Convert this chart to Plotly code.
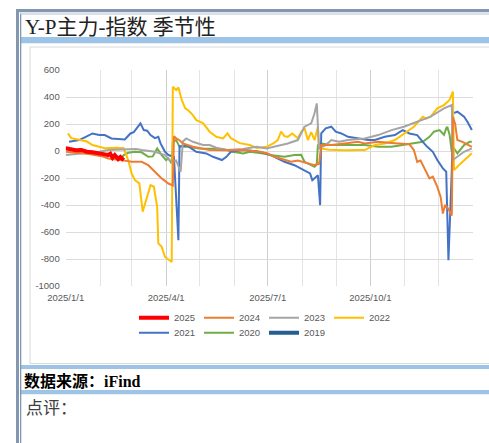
import plotly.graph_objects as go

# ---------------- data ----------------
dates_2025 = ["2025-01-01","2025-01-06","2025-01-10","2025-01-15","2025-01-20","2025-01-25","2025-01-31",
              "2025-02-05","2025-02-08","2025-02-10","2025-02-12","2025-02-14","2025-02-17","2025-02-19","2025-02-22"]
vals_2025 = [20, 12, 5, 8, -5, -10, -15, -25, -30, -20, -50, -30, -60, -45, -68]

dates_2024 = ["2025-01-01","2025-01-08","2025-01-15","2025-01-22","2025-01-27","2025-02-03","2025-02-08","2025-02-14",
              "2025-02-20","2025-02-26","2025-03-01","2025-03-06","2025-03-10","2025-03-16","2025-03-22","2025-03-28",
              "2025-04-03","2025-04-06","2025-04-07","2025-04-08","2025-04-10","2025-04-13","2025-04-16","2025-04-25",
              "2025-05-05","2025-05-10","2025-05-25","2025-06-09","2025-06-24","2025-07-01","2025-07-07","2025-07-16",
              "2025-07-22","2025-07-28","2025-08-06","2025-08-12","2025-08-15","2025-08-16","2025-08-18","2025-08-27",
              "2025-09-08","2025-09-20","2025-09-26","2025-10-08","2025-10-20","2025-10-31","2025-11-05","2025-11-09",
              "2025-11-12","2025-11-15","2025-11-18","2025-11-23","2025-11-26","2025-11-30","2025-12-03","2025-12-05",
              "2025-12-07","2025-12-10","2025-12-13","2025-12-14","2025-12-16","2025-12-18","2025-12-22","2025-12-27",
              "2025-12-31"]
vals_2024 = [-6, -10, -18, -22, -30, -40, -55, -60, -67, -75, -80, -78, -80, -105, -154, -203,
             -241, -250, -255, 110, 93, 80, 56, 31, 15, 7, 5, 7, -6, -18, -43, -67,
             -80, -70, -92, -105, -92, -100, 44, 44, 56, 68, 56, 68, 60, 56, 50, 7,
             -80, -70, -117, -203, -190, -266, -340, -463, -400, -430, -478, 254, 200, 81, 70, 50,
             31]

dates_2023 = ["2025-01-01","2025-01-08","2025-01-15","2025-01-22","2025-01-31","2025-02-08","2025-02-16","2025-02-22",
              "2025-03-01","2025-03-05","2025-03-10","2025-03-16","2025-03-22","2025-03-31","2025-04-04","2025-04-07",
              "2025-04-10","2025-04-14","2025-04-16","2025-04-19","2025-04-25","2025-05-04","2025-05-10","2025-05-16",
              "2025-05-25","2025-06-09","2025-06-21","2025-06-30","2025-07-07","2025-07-13","2025-07-19","2025-07-28",
              "2025-08-03","2025-08-09","2025-08-12","2025-08-14","2025-08-16","2025-08-22","2025-08-27","2025-09-03",
              "2025-09-11","2025-09-26","2025-10-03","2025-10-08","2025-10-20","2025-10-31","2025-11-12","2025-11-24",
              "2025-12-06","2025-12-13","2025-12-14","2025-12-18","2025-12-24","2025-12-31"]
vals_2023 = [-30, -25, -20, -12, -6, 7, 10, 14, 19, 15, 7, 0, -6, -30, -67, -80,
             -70, -154, 70, 93, 68, 44, 44, 24, 7, 14, 31, 19, 31, 44, 56, 81,
             180, 205, 279, 353, 19, 44, 81, 68, 81, 93, 105, 118, 155, 180, 217, 254,
             316, 340, -67, -43, -6, 19]

dates_2022 = ["2025-01-03","2025-01-06","2025-01-15","2025-01-20","2025-01-25","2025-02-05","2025-02-15","2025-02-22",
              "2025-02-26","2025-03-01","2025-03-04","2025-03-08","2025-03-11","2025-03-15","2025-03-18","2025-03-21",
              "2025-03-24","2025-03-25","2025-03-28","2025-03-31","2025-04-06","2025-04-07","2025-04-10","2025-04-12",
              "2025-04-15","2025-04-18","2025-04-21","2025-04-25","2025-04-28","2025-05-04","2025-05-10","2025-05-16",
              "2025-05-22","2025-05-26","2025-05-29","2025-06-06","2025-06-15","2025-06-21","2025-06-30","2025-07-06",
              "2025-07-10","2025-07-13","2025-07-16","2025-07-19","2025-07-23","2025-07-28","2025-07-31","2025-08-03",
              "2025-08-06","2025-08-09","2025-08-12","2025-08-15","2025-08-16","2025-08-25","2025-09-08","2025-09-20",
              "2025-09-26","2025-10-05","2025-10-14","2025-10-23","2025-10-31","2025-11-09","2025-11-17","2025-11-20",
              "2025-11-24","2025-11-30","2025-12-06","2025-12-11","2025-12-14","2025-12-15","2025-12-21","2025-12-27",
              "2025-12-31"]
vals_2022 = [130, 95, 80, 70, 44, 20, 25, 20, -67, -165, -216, -240, -450, -340, -253, -265,
             -414, -684, -710, -785, -822, 476, 452, 470, 378, 318, 300, 266, 229, 207, 143, 105,
             93, 130, 95, 58, 44, 22, 31, 56, 81, 143, 110, 105, 130, 95, 140, 170,
             81, 140, 80, 180, 21, 10, 5, 7, 7, 44, 56, 81, 130, 180, 254, 240,
             254, 316, 340, 378, 440, -142, -92, -43, -16]

dates_2021 = ["2025-01-04","2025-01-13","2025-01-19","2025-01-25","2025-01-31","2025-02-05","2025-02-11","2025-02-17",
              "2025-02-23","2025-02-28","2025-03-03","2025-03-09","2025-03-12","2025-03-15","2025-03-18","2025-03-22",
              "2025-03-25","2025-03-27","2025-03-31","2025-04-03","2025-04-08","2025-04-12","2025-04-13","2025-04-20",
              "2025-04-28","2025-05-07","2025-05-13","2025-05-21","2025-05-25","2025-05-29","2025-06-09","2025-06-21",
              "2025-06-30","2025-07-07","2025-07-16","2025-07-25","2025-08-03","2025-08-08","2025-08-10","2025-08-13",
              "2025-08-15","2025-08-17","2025-08-18","2025-08-22","2025-08-27","2025-08-31","2025-09-05","2025-09-11",
              "2025-09-20","2025-09-29","2025-10-05","2025-10-14","2025-10-23","2025-10-30","2025-11-05","2025-11-12",
              "2025-11-17","2025-11-21","2025-11-26","2025-11-30","2025-12-05","2025-12-08","2025-12-10","2025-12-13",
              "2025-12-14","2025-12-18","2025-12-24","2025-12-27","2025-12-31"]
vals_2021 = [68, 81, 105, 130, 118, 118, 93, 90, 86, 130, 140, 205, 155, 150, 118, 95,
             105, 56, -6, -30, -43, -661, 35, 40, -6, -18, -43, -67, -43, -6, 7, -1,
             -18, -43, -80, -105, -142, -166, -216, -191, -180, -401, 130, 168, 180, 143, 130, 105,
             93, 81, 81, 105, 118, 155, 130, 118, 68, 31, -6, -67, -129, -154, -809, -142,
             279, 291, 254, 217, 155]

dates_2020 = ["2025-01-01","2025-01-10","2025-01-20","2025-01-31","2025-02-10","2025-02-20","2025-02-22","2025-02-26",
              "2025-03-04","2025-03-10","2025-03-16","2025-03-20","2025-03-24","2025-03-28","2025-04-01","2025-04-03",
              "2025-04-06","2025-04-07","2025-04-10","2025-04-13","2025-04-20","2025-05-01","2025-05-13","2025-05-22",
              "2025-05-31","2025-06-09","2025-06-15","2025-06-27","2025-07-03","2025-07-16","2025-07-25","2025-07-31",
              "2025-08-03","2025-08-09","2025-08-12","2025-08-14","2025-08-15","2025-08-18","2025-08-27","2025-09-26",
              "2025-10-08","2025-10-20","2025-10-31","2025-11-09","2025-11-17","2025-11-23","2025-11-27","2025-12-02",
              "2025-12-06","2025-12-08","2025-12-09","2025-12-11","2025-12-13","2025-12-14","2025-12-18","2025-12-24",
              "2025-12-29","2025-12-31"]
vals_2020 = [15, 5, -5, -15, -25, -50, -30, -13, -6, -10, -43, -40, 19, -30, -67, -55,
             -92, 68, 81, 31, 31, 19, 15, 14, -6, -18, -6, -18, -30, -43, -30, -28,
             -80, -105, -117, -100, 44, 56, 44, 44, 31, 31, 44, 56, 68, 105, 143, 155,
             120, 168, 180, 120, -6, 31, -18, 44, 68, 68]

dates_2019 = []
vals_2019 = []

series_names = ["2025", "2024", "2023", "2022", "2021", "2020", "2019"]
series_colors = ["#FF0000", "#ED7D31", "#A5A5A5", "#FFC000", "#4472C4", "#70AD47", "#255E91"]
series_widths = [4, 2, 2, 2, 2, 2, 4]
series_dates = [dates_2025, dates_2024, dates_2023, dates_2022, dates_2021, dates_2020, dates_2019]
series_vals = [vals_2025, vals_2024, vals_2023, vals_2022, vals_2021, vals_2020, vals_2019]

x_tick_vals = ["2025-01-01", "2025-04-01", "2025-07-01", "2025-10-01", "2026-01-01"]
x_tick_text = ["2025/1/1", "2025/4/1", "2025/7/1", "2025/10/1", ""]
month_starts = ["2025-02-01", "2025-03-01", "2025-05-01", "2025-06-01", "2025-08-01",
                "2025-09-01", "2025-11-01", "2025-12-01"]
y_tick_vals = [600, 400, 200, 0, -200, -400, -600, -800, -1000]
y_tick_text = ["600", "400", "200", "0", "-200", "-400", "-600", "-800", "-1000"]

# ---------------- figure ----------------
W, H = 489, 443
def px(x):
    return min(max(x / W, 0), 1)
def py(y):
    return min(max(1 - y / H, 0), 1)

fig = go.Figure()
for i in reversed(range(len(series_names))):
    xs = series_dates[i] if series_dates[i] else [None]
    ys = series_vals[i] if series_vals[i] else [None]
    fig.add_trace(go.Scatter(
        x=xs, y=ys, mode="lines", name=series_names[i],
        line=dict(color=series_colors[i], width=series_widths[i]),
        legend="legend" if i < 4 else "legend2",
        legendrank=i + 1, hoverinfo="skip"))

tick_font = dict(family="Liberation Sans, Arial, sans-serif", size=9.5, color="#595959")

fig.update_layout(
    width=W, height=H, margin=dict(l=0, r=0, t=0, b=0, pad=0, autoexpand=False),
    paper_bgcolor="white", plot_bgcolor="white",
    showlegend=True,
    xaxis=dict(type="date", range=["2025-01-01", "2026-01-01"], domain=[px(65.7), px(473)],
               tickvals=x_tick_vals, ticktext=x_tick_text, tickfont=tick_font,
               showgrid=True, gridcolor="#CFCFCF", gridwidth=1, zeroline=False, showline=False,
               ticks="", ticklabelstandoff=4, automargin=False,
               minor=dict(tickvals=month_starts, showgrid=True, gridcolor="#E4E4E4", gridwidth=1)),
    yaxis=dict(range=[-1000, 600], domain=[py(286), py(70)], tickvals=y_tick_vals, ticktext=y_tick_text,
               tickfont=tick_font, showgrid=True, gridcolor="#DCDCDC", gridwidth=1,
               zeroline=False, showline=False, ticks="", ticklabelstandoff=5, automargin=False),
    legend=dict(orientation="h", x=px(134), xanchor="left", y=py(317.7), yanchor="middle",
                font=tick_font, bgcolor="rgba(0,0,0,0)", entrywidth=20, entrywidthmode="pixels",
                traceorder="normal", itemwidth=30),
    legend2=dict(orientation="h", x=px(134), xanchor="left", y=py(332.7), yanchor="middle",
                 font=tick_font, bgcolor="rgba(0,0,0,0)", entrywidth=20, entrywidthmode="pixels",
                 traceorder="normal", itemwidth=30),
)

frame = "#8497B0"
band = "#9DC3E6"
shapes = [
    # light blue bands
    dict(type="rect", x0=px(20), x1=1, y0=py(43.3), y1=py(37), fillcolor=band, line_width=0, layer="below"),
    dict(type="rect", x0=px(20), x1=1, y0=py(369), y1=py(365), fillcolor=band, line_width=0, layer="below"),
    dict(type="rect", x0=px(20), x1=1, y0=py(394.3), y1=py(390), fillcolor=band, line_width=0, layer="below"),
    # outer frame (thick) and inner thin line
    dict(type="rect", x0=px(16), x1=1, y0=py(12.3), y1=py(9), fillcolor=frame, line_width=0),
    dict(type="rect", x0=px(16), x1=px(19), y0=0, y1=py(9), fillcolor=frame, line_width=0),
    dict(type="rect", x0=px(20), x1=px(21.3), y0=0, y1=py(13.5), fillcolor=frame, line_width=0),
    dict(type="rect", x0=px(20), x1=1, y0=py(14.5), y1=py(13.5), fillcolor="#B4C2D6", line_width=0),
    # chart area box (left, top, bottom edges; right edge is off-picture)
    dict(type="line", x0=px(30), x1=px(30), y0=py(363.5), y1=py(47), line=dict(color="#D9D9D9", width=1)),
    dict(type="line", x0=px(30), x1=1, y0=py(47), y1=py(47), line=dict(color="#D9D9D9", width=1)),
    dict(type="line", x0=px(30), x1=1, y0=py(363.5), y1=py(363.5), line=dict(color="#D9D9D9", width=1)),
]
fig.update_layout(shapes=[dict(s, xref="paper", yref="paper") for s in shapes])

annotations = [
    dict(text="Y-P主力-指数 季节性", x=px(23), y=py(27), xanchor="left", yanchor="middle",
         font=dict(family="Liberation Serif, Noto Sans CJK SC, serif", size=21, color="#222222")),
    dict(text="<b>数据来源：iFind</b>", x=px(22), y=py(381.5), xanchor="left", yanchor="middle",
         font=dict(family="Liberation Serif, Noto Sans CJK SC, serif", size=16, color="#000000")),
    dict(text="点评：", x=px(24), y=py(408.5), xanchor="left", yanchor="middle",
         font=dict(family="Liberation Serif, Noto Sans CJK SC, serif", size=17, color="#404040")),
]
fig.update_layout(annotations=[dict(a, xref="paper", yref="paper", showarrow=False) for a in annotations])

fig.write_html("out.html", config={"displayModeBar": False},
               post_script="document.body.style.margin='0';document.body.style.padding='0';"
                           "document.documentElement.style.overflow='hidden';")
